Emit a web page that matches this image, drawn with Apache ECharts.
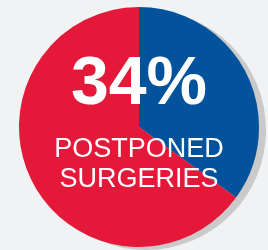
<!DOCTYPE html>
<html>
<head>
<meta charset="utf-8">
<script src="https://cdn.jsdelivr.net/npm/echarts@6/dist/echarts.min.js"></script>
<style>
html,body{margin:0;padding:0;background:#f1f2f4;}
#main{width:268px;height:250px;}
</style>
</head>
<body>
<div id="main"></div>
<script>
var categories = ['Postponed surgeries', 'Other'];
var values = [35, 65];
var colors = ['#03539c', '#e4193a'];
var bigLabel = '34%';
var subLabel = ['POSTPONED', 'SURGERIES'];

var chart = echarts.init(document.getElementById('main'), null, {renderer: 'canvas'});
chart.setOption({
  backgroundColor: '#f1f2f4',
  animation: false,
  series: [
    {
      type: 'pie',
      silent: true,
      center: [146, 130],
      radius: 120,
      label: {show: false},
      itemStyle: {color: '#cbcacb'},
      data: [{name: 'shadow', value: 1}]
    },
    {
      type: 'pie',
      center: [139, 127],
      radius: 120,
      startAngle: 90,
      clockwise: true,
      label: {show: false},
      labelLine: {show: false},
      itemStyle: {borderWidth: 0},
      data: categories.map(function (c, i) {
        return {name: c, value: values[i], itemStyle: {color: colors[i]}};
      })
    }
  ],
  graphic: {
    elements: [
      {
        type: 'text',
        z: 100,
        x: 139,
        y: 51,
        style: {
          text: bigLabel,
          fill: '#ffffff',
          align: 'center',
          fontFamily: '"Liberation Sans", Arial, sans-serif',
          fontWeight: 'bold',
          fontSize: 68
        }
      },
      {
        type: 'text',
        z: 100,
        x: 139,
        y: 135,
        style: {
          text: subLabel.join('\n'),
          fill: '#ffffff',
          align: 'center',
          lineHeight: 30,
          fontFamily: '"Liberation Sans", Arial, sans-serif',
          fontSize: 27
        }
      }
    ]
  }
});
</script>
</body>
</html>
